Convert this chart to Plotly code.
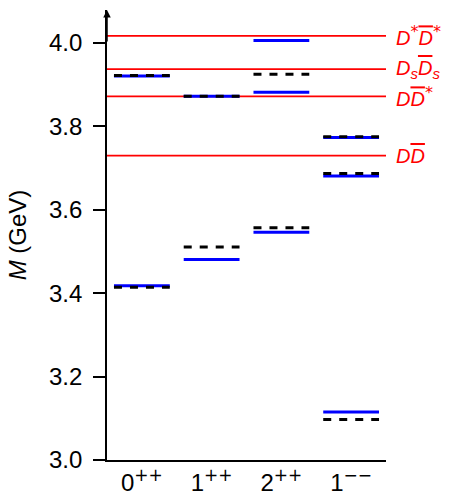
import plotly.graph_objects as go

SUP = "<sup><span style='font-family:DejaVu Sans;font-size:17px'>{}</span></sup>"
categories = ["0" + SUP.format("++"), "1" + SUP.format("++"),
              "2" + SUP.format("++"), "1" + SUP.format("−−")]

# Blue (solid) levels per category, GeV
blue_0pp = [3.418, 3.921]
blue_1pp = [3.481, 3.872]
blue_2pp = [3.546, 3.882, 4.006]
blue_1mm = [3.115, 3.681, 3.773]

# Black (dashed) levels per category, GeV
black_0pp = [3.414, 3.922]
black_1pp = [3.511, 3.872]
black_2pp = [3.557, 3.925]
black_1mm = [3.097, 3.687, 3.775]

# Thresholds (GeV) and labels
OV = "<span style='text-decoration:overline'>D</span>"
ST = "<sup><span style='font-family:DejaVu Sans;font-size:16px'>*</span></sup>"
SS = "<sub><span style='font-size:15px'>s</span></sub>"
thresholds = [3.730, 3.872, 3.937, 4.017]
threshold_labels = [
    "<i>D" + OV + "</i>",
    "<i>D" + OV + "</i>" + ST,
    "<i>D" + SS + OV + SS + "</i>",
    "<i>D</i>" + ST + "<i>" + OV + "</i>" + ST,
]

blue = [blue_0pp, blue_1pp, blue_2pp, blue_1mm]
black = [black_0pp, black_1pp, black_2pp, black_1mm]
half = 0.4

def segs(groups):
    xs, ys = [], []
    for i, vals in enumerate(groups):
        for v in vals:
            xs += [i - half, i + half, None]
            ys += [v, v, None]
    return xs, ys

fig = go.Figure()
FONT = "Liberation Sans"

# threshold lines
for t in thresholds:
    fig.add_trace(go.Scatter(x=[-0.5, 3.5], y=[t, t], mode="lines",
                             line=dict(color="#ff0000", width=1.8),
                             hoverinfo="skip", showlegend=False))

bx, by = segs(blue)
fig.add_trace(go.Scatter(x=bx, y=by, mode="lines",
                         line=dict(color="#0000ff", width=3),
                         showlegend=False))
kx, ky = segs(black)
fig.add_trace(go.Scatter(x=kx, y=ky, mode="lines",
                         line=dict(color="black", width=3, dash="8px,8px"),
                         showlegend=False))

for t, lab in zip(thresholds, threshold_labels):
    fig.add_annotation(x=1, xref="paper", y=t, yref="y", text=lab,
                       showarrow=False, xanchor="left", yanchor="middle",
                       xshift=8, font=dict(family=FONT, size=20, color="#ff0000"))

# axis arrow
fig.add_annotation(x=-0.5, y=4.079, xref="x", yref="y", ax=-0.5, ay=4.0,
                   axref="x", ayref="y", showarrow=True, arrowhead=2,
                   arrowsize=1, arrowwidth=1.5, arrowcolor="black", text="")

fig.update_layout(
    width=454, height=495,
    margin=dict(l=107, r=68, t=10, b=35),
    plot_bgcolor="white", paper_bgcolor="white",
    font=dict(family=FONT, size=24, color="black"),
    xaxis=dict(range=[-0.5, 3.5], tickvals=[0, 1, 2, 3], ticktext=categories,
               showgrid=False, zeroline=False, showline=True, linecolor="black",
               linewidth=1.8, ticks="", tickfont=dict(size=24), automargin=False),
    yaxis=dict(range=[3.0, 4.079], tickvals=[3.0, 3.2, 3.4, 3.6, 3.8, 4.0],
               ticktext=["3.0", "3.2", "3.4", "3.6", "3.8", "4.0"],
               showgrid=False, zeroline=False, showline=True, linecolor="black",
               linewidth=1.8, ticks="outside", ticklen=12, tickwidth=1.8,
               tickcolor="black", tickfont=dict(size=24), ticklabelstandoff=6,
               automargin=False,
               title=dict(text="<i>M</i> (GeV)", font=dict(size=24), standoff=16)),
)

fig.write_html("out.html")
